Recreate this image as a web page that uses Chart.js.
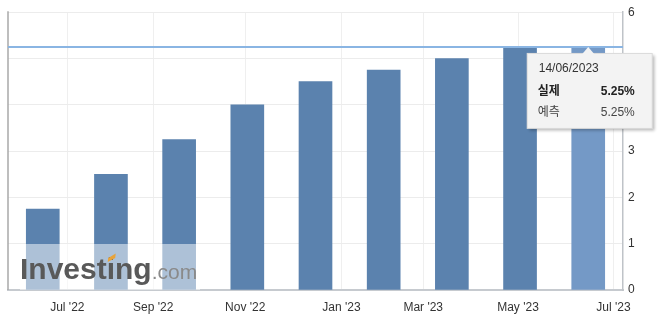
<!DOCTYPE html>
<html>
<head>
<meta charset="utf-8">
<script src="https://cdn.jsdelivr.net/npm/chart.js@4.4.0/dist/chart.umd.min.js"></script>
<style>
  html, body { margin: 0; padding: 0; background: #fff; }
  #wrap { width: 669px; height: 328px; position: relative; }
</style>
</head>
<body>
<div id="wrap"><canvas id="rateChart"></canvas></div>
<script>
// Release dates of each decision and the actual rate (%)
var releaseDates = ['15/06/2022', '27/07/2022', '21/09/2022', '02/11/2022', '14/12/2022',
                    '01/02/2023', '22/03/2023', '03/05/2023', '14/06/2023'];
var actualRates  = [1.75, 2.50, 3.25, 4.00, 4.50, 4.75, 5.00, 5.25, 5.25];

// Hovered bar shown in the tooltip
var highlightIndex    = 8;
var highlightForecast = 5.25;

// Month labels sit between bars (position in bar-index units)
var monthTickPos    = [0.36, 1.62, 2.97, 4.38, 5.58, 6.97, 8.37];
var monthTickLabels = ["Jul '22", "Sep '22", "Nov '22", "Jan '23", "Mar '23", "May '23", "Jul '23"];

var yTicks = [0, 1, 2, 3, 4, 5, 6];

var FONT = "'Liberation Sans', Arial, 'Noto Sans CJK KR', sans-serif";
var BAR_COLOR = '#5b82ae';
var BAR_HIGHLIGHT = '#7499c6';

var extras = {
    id: 'investingExtras',
    afterDatasetsDraw: function (chart) {
        var ctx = chart.ctx;
        var area = chart.chartArea;
        var y = chart.scales.y;

        // left frame line
        ctx.save();
        ctx.strokeStyle = '#a9a9a9';
        ctx.lineWidth = 1.5;
        ctx.beginPath();
        ctx.moveTo(area.left, area.top - 1);
        ctx.lineTo(area.left, area.bottom);
        ctx.stroke();

        // current-value line
        var ly = y.getPixelForValue(actualRates[actualRates.length - 1]);
        ctx.strokeStyle = '#8ab5e3';
        ctx.lineWidth = 2;
        ctx.beginPath();
        ctx.moveTo(area.left, ly);
        ctx.lineTo(area.right, ly);
        ctx.stroke();

        // watermark
        ctx.fillStyle = 'rgba(255,255,255,0.5)';
        ctx.fillRect(20, 244, 180, area.bottom - 244);
        ctx.textBaseline = 'alphabetic';
        ctx.textAlign = 'left';
        ctx.font = "bold 30px " + FONT;
        ctx.fillStyle = '#595959';
        ctx.fillText('Investing', 20, 279);
        var dotX = 20 + ctx.measureText('Invest').width;
        ctx.fillStyle = '#e8a33a';
        ctx.beginPath();
        ctx.moveTo(dotX + 1.5, 258);
        ctx.lineTo(dotX + 9, 253.5);
        ctx.lineTo(dotX + 8.5, 258);
        ctx.lineTo(dotX + 1, 262);
        ctx.closePath();
        ctx.fill();
        var comX = 20 + ctx.measureText('Investing').width;
        ctx.font = "21px " + FONT;
        ctx.fillStyle = '#8a8a8a';
        ctx.fillText('.com', comX, 279);
        ctx.restore();
    },
    afterDraw: function (chart) {
        var ctx = chart.ctx;
        var bar = chart.getDatasetMeta(0).data[highlightIndex];
        var tipX = bar.x, tipY = bar.y;
        var boxW = 126, boxH = 76;
        var bx = tipX - 61.5, by = tipY + 6;

        ctx.save();
        ctx.shadowColor = 'rgba(0,0,0,0.28)';
        ctx.shadowBlur = 3;
        ctx.shadowOffsetX = 2;
        ctx.shadowOffsetY = 2;
        ctx.fillStyle = '#f3f3f3';
        ctx.fillRect(bx, by, boxW, boxH);
        ctx.restore();

        ctx.save();
        ctx.strokeStyle = 'rgba(0,0,0,0.10)';
        ctx.lineWidth = 1;
        ctx.strokeRect(bx + 0.5, by + 0.5, boxW - 1, boxH - 1);

        // caret
        ctx.fillStyle = '#f3f3f3';
        ctx.beginPath();
        ctx.moveTo(tipX - 6, by + 1);
        ctx.lineTo(tipX, tipY);
        ctx.lineTo(tipX + 6, by + 1);
        ctx.closePath();
        ctx.fill();

        ctx.textBaseline = 'alphabetic';
        ctx.textAlign = 'left';
        ctx.font = "12px " + FONT;
        ctx.fillStyle = '#333';
        ctx.fillText(releaseDates[highlightIndex], bx + 12, by + 19);

        ctx.font = "bold 12px " + FONT;
        ctx.fillStyle = '#222';
        ctx.fillText('실제', bx + 11, by + 42);
        ctx.textAlign = 'right';
        ctx.fillText(actualRates[highlightIndex].toFixed(2) + '%', bx + boxW - 18, by + 42);

        ctx.font = "12px " + FONT;
        ctx.fillStyle = '#444';
        ctx.textAlign = 'left';
        ctx.fillText('예측', bx + 11, by + 63);
        ctx.textAlign = 'right';
        ctx.fillText(highlightForecast.toFixed(2) + '%', bx + boxW - 18, by + 63);
        ctx.restore();
    }
};

new Chart(document.getElementById('rateChart'), {
    type: 'bar',
    data: {
        datasets: [{
            data: actualRates.map(function (v, i) { return { x: i, y: v }; }),
            backgroundColor: actualRates.map(function (v, i) {
                return i === highlightIndex ? BAR_HIGHLIGHT : BAR_COLOR;
            }),
            borderWidth: 0,
            barThickness: 33,
        }],
    },
    options: {
        responsive: true,
        maintainAspectRatio: false,
        animation: false,
        layout: { padding: { left: 8, top: 10, right: 0, bottom: 0 } },
        plugins: {
            legend: { display: false },
            tooltip: { enabled: false },
        },
        scales: {
            x: {
                type: 'linear',
                offset: false,
                min: -0.51,
                max: 8.51,
                afterBuildTicks: function (scale) {
                    scale.ticks = monthTickPos.map(function (p) { return { value: p }; });
                },
                afterFit: function (scale) { scale.height = 38; },
                ticks: {
                    autoSkip: false,
                    maxRotation: 0,
                    padding: 10,
                    color: '#333',
                    font: { family: FONT, size: 12 },
                    callback: function (value, index) { return monthTickLabels[index]; },
                },
                grid: { color: '#efefef', drawTicks: false, offset: false },
                border: { color: '#c6cacf', width: 2 },
            },
            y: {
                position: 'right',
                min: 0,
                max: 6,
                afterBuildTicks: function (scale) {
                    scale.ticks = yTicks.map(function (v) { return { value: v }; });
                },
                afterFit: function (scale) { scale.width = 46; },
                ticks: {
                    padding: 5,
                    color: '#333',
                    font: { family: FONT, size: 12 },
                },
                grid: { color: '#ececec', drawTicks: false },
                border: { color: '#bfc3c8', width: 1.5 },
            },
        },
    },
    plugins: [extras],
});
</script>
</body>
</html>
